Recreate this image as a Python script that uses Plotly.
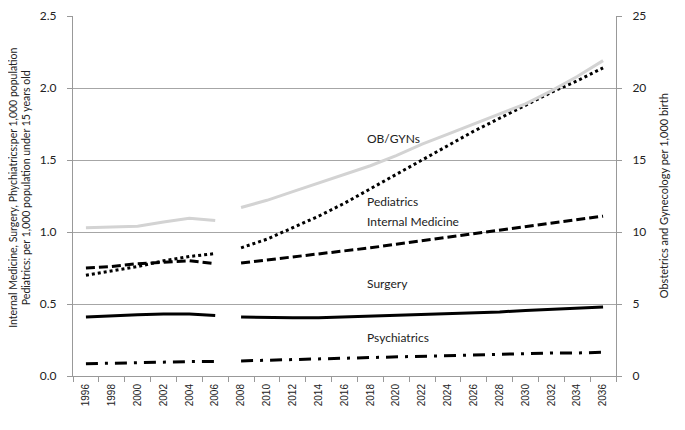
import plotly.graph_objects as go

years_all = [str(y) for y in range(1996, 2037, 2)]
hist_years = ["1996", "1998", "2000", "2002", "2004", "2006"]
proj_years = [str(y) for y in range(2008, 2037, 2)]

# historical (1996-2006)
obgyn_hist = [10.3, 10.35, 10.4, 10.7, 10.95, 10.8]
pediatrics_hist = [0.70, 0.73, 0.76, 0.80, 0.83, 0.85]
internal_hist = [0.75, 0.76, 0.78, 0.79, 0.80, 0.78]
surgery_hist = [0.41, 0.42, 0.425, 0.43, 0.43, 0.42]
psych_hist = [0.085, 0.09, 0.09, 0.095, 0.10, 0.10]

# projections (2008-2036)
obgyn_proj = [11.7, 12.2, 12.8, 13.4, 14.0, 14.6, 15.3, 16.1, 16.8, 17.5, 18.2, 18.9, 19.8, 20.8, 21.9]
pediatrics_proj = [0.89, 0.95, 1.03, 1.11, 1.20, 1.30, 1.40, 1.50, 1.60, 1.70, 1.79, 1.88, 1.97, 2.05, 2.14]
internal_proj = [0.785, 0.805, 0.825, 0.845, 0.865, 0.89, 0.915, 0.94, 0.965, 0.99, 1.015, 1.04, 1.065, 1.085, 1.11]
surgery_proj = [0.41, 0.405, 0.405, 0.405, 0.41, 0.415, 0.42, 0.425, 0.43, 0.44, 0.445, 0.455, 0.465, 0.47, 0.48]
psych_proj = [0.105, 0.11, 0.115, 0.12, 0.125, 0.13, 0.135, 0.14, 0.145, 0.15, 0.15, 0.155, 0.16, 0.16, 0.165]

labels = ["OB/GYNs", "Pediatrics", "Internal Medicine", "Surgery", "Psychiatrics"]
label_y = [1.646, 1.215, 1.076, 0.64, 0.264]

GRAY = "#d3d3d3"
fig = go.Figure()

def add(x, y, color, dash, yaxis="y", width=3):
    fig.add_trace(go.Scatter(x=x, y=y, mode="lines", yaxis=yaxis,
                             line=dict(color=color, width=width, dash=dash),
                             showlegend=False, hoverinfo="skip"))

for xs, ob, pe, im, su, ps in [(hist_years, obgyn_hist, pediatrics_hist, internal_hist, surgery_hist, psych_hist),
                               (proj_years, obgyn_proj, pediatrics_proj, internal_proj, surgery_proj, psych_proj)]:
    add(xs, ob, GRAY, "solid", yaxis="y2", width=3)
    add(xs, pe, "black", "3px,3px")
    add(xs, im, "black", "9px,4px")
    add(xs, su, "black", "solid")
    add(xs, ps, "black", "12px,7px,3px,7px")

font_main = "Lato, 'Open Sans', sans-serif"
for txt, yv in zip(labels, label_y):
    fig.add_annotation(x=0.538, xref="paper", y=yv, yref="y", text=txt, showarrow=False,
                       xanchor="left", font=dict(family=font_main, size=12, color="#222"))

fig.add_annotation(x=-0.098, xref="paper", y=0.522, yref="paper", textangle=-90, showarrow=False,
                   xanchor="center", yanchor="middle",
                   text="Internal Medicine, Surgery, Phychiatrics:per 1,000 population<br>Pediatrics: per 1,000 population under 15 years old",
                   font=dict(family=font_main, size=10.5, color="#222"))
fig.add_annotation(x=1.087, xref="paper", y=0.5, yref="paper", textangle=-90, showarrow=False,
                   xanchor="center", yanchor="middle",
                   text="Obstetrics and Gynecology per 1,000 birth",
                   font=dict(family=font_main, size=11, color="#222"))

fig.update_layout(
    width=669, height=414, autosize=False,
    margin=dict(l=65, r=61, t=8, b=46, autoexpand=False),
    plot_bgcolor="white", paper_bgcolor="white",
    xaxis=dict(type="category", categoryorder="array", categoryarray=years_all,
               tickmode="array", tickvals=years_all, ticktext=years_all,
               tickangle=-90, tickson="boundaries", ticks="outside", ticklen=5,
               tickcolor="#999", showline=True, linecolor="#999", showgrid=False, automargin=False,
               ticklabelstandoff=3,
               range=[-0.5, 20.5], tickfont=dict(family="Liberation Sans, Arial", size=10, color="#222")),
    yaxis=dict(range=[0, 2.5], tickvals=[0, 0.5, 1.0, 1.5, 2.0, 2.5],
               ticktext=["0.0", "0.5", "1.0", "1.5", "2.0", "2.5"],
               showgrid=True, gridcolor="#a6a6a6", gridwidth=1, automargin=False,
               showline=True, linecolor="#999", ticks="outside", ticklen=5, tickcolor="#999",
               ticklabelstandoff=8,
               zeroline=False, tickfont=dict(family=font_main, size=12, color="#222")),
    yaxis2=dict(range=[0, 25], tickvals=[0, 5, 10, 15, 20, 25], overlaying="y", side="right",
                showgrid=False, showline=True, linecolor="#999", ticks="outside", ticklen=5,
                tickcolor="#999", zeroline=False, automargin=False, ticklabelstandoff=8,
                tickfont=dict(family=font_main, size=12, color="#222")),
)

fig.write_html("out.html")
